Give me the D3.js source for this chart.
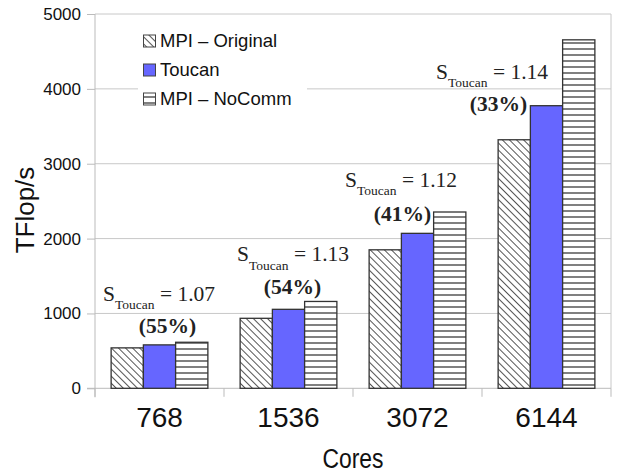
<!DOCTYPE html>
<html>
<head>
<meta charset="utf-8">
<script src="https://cdn.jsdelivr.net/npm/d3@7"></script>
<style>
  html, body { margin: 0; padding: 0; background: #fff; }
  svg { display: block; }
</style>
</head>
<body>
<svg id="chart" width="619" height="475"></svg>
<script>
// Performance in TFlop/s for each core count
const cores = ["768", "1536", "3072", "6144"];
const seriesNames = ["MPI \u2013 Original", "Toucan", "MPI \u2013 NoComm"];
const mpiOriginal = [540, 935, 1850, 3320];
const toucan = [580, 1055, 2070, 3775];
const mpiNoComm = [615, 1160, 2355, 4655];
const yTicks = [0, 1000, 2000, 3000, 4000, 5000];

// Speedup of Toucan over MPI and share of communication hidden
const speedups = ["1.07", "1.13", "1.12", "1.14"];
const hiddenShare = ["55%", "54%", "41%", "33%"];

// Where the annotations sit: baseline heights in TFlop/s, horizontal offsets in px from group centre
const speedupBase = [1171, 1695, 2695, 4135];
const shareBase = [739, 1261, 2241, 3698];
const speedupDx = [-56.5, -51.5, -72.5, -110.5];
const shareDx = [8, 4, -15, -48];

const svg = d3.select("#chart");
const plotLeft = 95, plotRight = 611, plotTop = 14, plotBottom = 388.3;

const x = d3.scaleBand().domain(cores).range([plotLeft, plotRight]).paddingInner(0).paddingOuter(0);
const bw = x.bandwidth();
const xs = d3.scaleBand().domain(seriesNames).range([bw / 8, bw * 7 / 8]).padding(0);
const y = d3.scaleLinear().domain([0, 5000]).range([plotBottom, plotTop]);

// Fill patterns
const defs = svg.append("defs");
const diag = defs.append("pattern")
  .attr("id", "diag").attr("patternUnits", "userSpaceOnUse")
  .attr("width", 5).attr("height", 10)
  .attr("patternTransform", "rotate(-45)");
diag.append("rect").attr("width", 5).attr("height", 10).attr("fill", "#fff");
diag.append("line").attr("x1", 0.5).attr("x2", 0.5).attr("y1", 0).attr("y2", 10)
  .attr("stroke", "#555").attr("stroke-width", 1);

const horiz = defs.append("pattern")
  .attr("id", "horiz").attr("patternUnits", "userSpaceOnUse")
  .attr("width", 10).attr("height", 6);
horiz.append("rect").attr("width", 10).attr("height", 6).attr("fill", "#fff");
horiz.append("line").attr("x1", 0).attr("x2", 10).attr("y1", 1).attr("y2", 1)
  .attr("stroke", "#555").attr("stroke-width", 1.5);

const fills = ["url(#diag)", "#6666ff", "url(#horiz)"];
const values = [mpiOriginal, toucan, mpiNoComm];

// Grid lines
svg.append("g").selectAll("line").data(yTicks.filter(d => d > 0)).join("line")
  .attr("x1", plotLeft).attr("x2", plotRight)
  .attr("y1", d => y(d)).attr("y2", d => y(d))
  .attr("stroke", "#c8c8c8").attr("stroke-width", 1);

// Right frame line
svg.append("line").attr("x1", plotRight).attr("x2", plotRight).attr("y1", plotTop).attr("y2", plotBottom)
  .attr("stroke", "#c8c8c8");

// Y axis
const yAxis = svg.append("g").attr("transform", `translate(${plotLeft},0)`)
  .call(d3.axisLeft(y).tickValues(yTicks).tickSize(8).tickPadding(6).tickFormat(d3.format("d")));
yAxis.select(".domain").attr("stroke", "#bbb").attr("d", `M0,${plotTop}V${plotBottom + 9}`);
yAxis.selectAll(".tick line").attr("stroke", "#bbb");
yAxis.selectAll("text").attr("font-family", "Liberation Sans, Arial, sans-serif")
  .attr("font-size", 17).attr("fill", "#111");

// X axis (ticks at category boundaries)
const xAxis = svg.append("g").attr("transform", `translate(0,${plotBottom})`);
xAxis.append("line").attr("x1", plotLeft - 8).attr("x2", plotRight).attr("y1", 0).attr("y2", 0)
  .attr("stroke", "#bbb");
const bounds = cores.map(c => x(c)).concat([x(cores[cores.length - 1]) + bw]);
xAxis.selectAll(".bt").data(bounds).join("line").attr("class", "bt")
  .attr("x1", d => d).attr("x2", d => d).attr("y1", 0).attr("y2", 8.5)
  .attr("stroke", "#bbb");
xAxis.selectAll(".xl").data(cores).join("text").attr("class", "xl")
  .attr("x", d => x(d) + bw / 2).attr("y", 39)
  .attr("text-anchor", "middle")
  .attr("font-family", "Liberation Sans, Arial, sans-serif")
  .attr("font-size", 28).attr("fill", "#111")
  .text(d => d);

// Bars
const groups = svg.append("g").selectAll("g").data(cores).join("g")
  .attr("transform", d => `translate(${x(d)},0)`);
groups.selectAll("rect").data((c, i) => seriesNames.map((s, k) => ({ s, k, v: values[k][i] })))
  .join("rect")
  .attr("x", d => xs(d.s)).attr("width", xs.bandwidth())
  .attr("y", d => y(d.v)).attr("height", d => plotBottom - y(d.v))
  .attr("fill", d => fills[d.k])
  .attr("stroke", "#333").attr("stroke-width", 1.3);

// Annotations
const ann = svg.append("g").attr("font-family", "Liberation Serif, 'Times New Roman', serif").attr("fill", "#222");
cores.forEach((c, i) => {
  const cx = x(c) + bw / 2;
  const t = ann.append("text").attr("x", cx + speedupDx[i]).attr("y", y(speedupBase[i]))
    .attr("font-size", 21.5);
  t.append("tspan").text("S");
  t.append("tspan").attr("font-size", 13.5).attr("dy", 8.5).text("Toucan");
  t.append("tspan").attr("dy", -8.5).text(" = " + speedups[i]);
  ann.append("text").attr("x", cx + shareDx[i]).attr("y", y(shareBase[i]))
    .attr("text-anchor", "middle").attr("font-size", 21.5).attr("font-weight", "bold")
    .text("(" + hiddenShare[i] + ")");
});

// Legend
const legend = svg.append("g");
legend.append("rect").attr("x", 138).attr("y", 24).attr("width", 169).attr("height", 88).attr("fill", "#fff");
seriesNames.forEach((s, k) => {
  const ly = 41 + k * 29;
  legend.append("rect").attr("x", 143.5).attr("y", ly - 6).attr("width", 12).attr("height", 12)
    .attr("fill", fills[k]).attr("stroke", "#444").attr("stroke-width", 1);
  legend.append("text").attr("x", 160).attr("y", ly).attr("dy", "0.35em")
    .attr("font-family", "Liberation Sans, Arial, sans-serif").attr("font-size", 18.5).attr("fill", "#111")
    .text(s);
});

// Axis titles
svg.append("text").attr("x", plotLeft + (plotRight - plotLeft) / 2).attr("y", 468)
  .attr("text-anchor", "middle")
  .attr("font-family", "Liberation Sans, Arial, sans-serif").attr("font-size", 27).attr("fill", "#111")
  .attr("textLength", 61).attr("lengthAdjust", "spacingAndGlyphs")
  .text("Cores");
svg.append("text").attr("transform", "translate(34,210) rotate(-90)")
  .attr("text-anchor", "middle")
  .attr("font-family", "Liberation Sans, Arial, sans-serif").attr("font-size", 26).attr("fill", "#111")
  .text("TFlop/s");
</script>
</body>
</html>
